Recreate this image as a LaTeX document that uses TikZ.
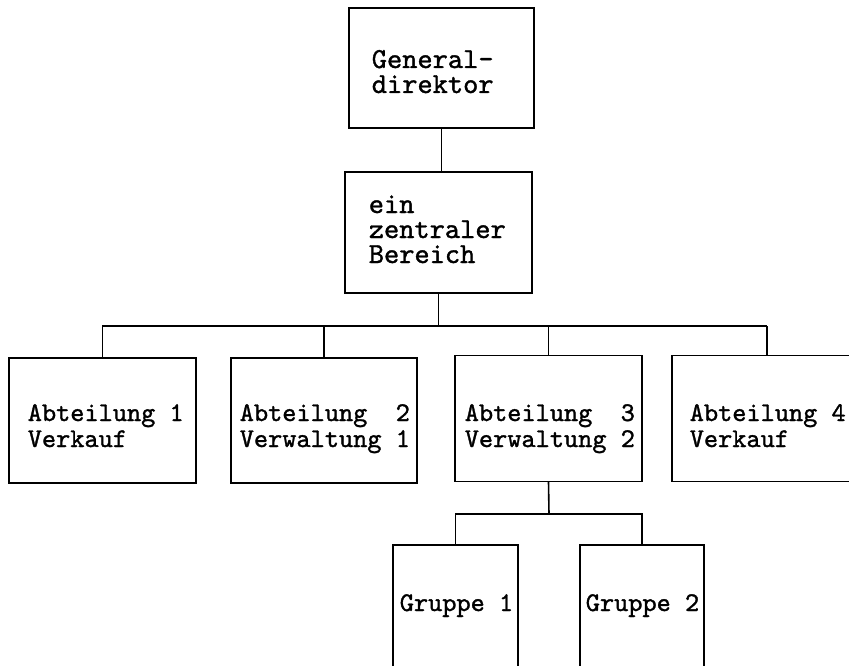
\documentclass[tikz,border=0pt]{standalone}
\usepackage{fontspec}
\newfontfamily\tw{lmmono10-regular}[Extension=.otf, FakeBold=1.2]
\begin{document}
\begin{tikzpicture}[x=1pt,y=-1pt, line width=1.6pt,
  box/.style={draw, rectangle, inner sep=0pt, outer sep=0pt},
  big/.style={font=\tw\fontsize{29}{25}\selectfont, anchor=base west, inner sep=0pt, align=left},
  small/.style={font=\tw\fontsize{27}{26}\selectfont, anchor=base west, inner sep=0pt, align=left}]
\useasboundingbox (0,0) rectangle (849,666);
\clip (0,0) rectangle (849,666);
% boxes
\node[box, minimum width=185pt, minimum height=120pt] (gd) at (441.5,68) {};
\node[box, minimum width=187pt, minimum height=121pt] (zb) at (438.5,232.5) {};
\node[box, minimum width=187pt, minimum height=125pt] (a1) at (102.5,420.5) {};
\node[box, minimum width=186pt, minimum height=125pt] (a2) at (324,420.5) {};
\node[box, minimum width=187pt, minimum height=126pt] (a3) at (548.5,418.5) {};
\node[box, minimum width=190pt, minimum height=126pt] (a4) at (767,418.5) {};
\node[box, minimum width=125pt, minimum height=155pt] (g1) at (455.5,622.5) {};
\node[box, minimum width=124pt, minimum height=155pt] (g2) at (642,622.5) {};
% texts (base anchor = baseline of last line)
\node[big] (t1) at (371,93) {General-\\direktor};
\node[big] (t3) at (368,263) {ein\\zentraler\\Bereich};
\node[small] (t6) at (27,447) {Abteilung 1\\Verkauf};
\node[small] (t8) at (239,447) {Abteilung\ \ 2\\Verwaltung 1};
\node[small] (t10) at (464,447) {Abteilung\ \ 3\\Verwaltung 2};
\node[small] (t12) at (689,447) {Abteilung 4\\Verkauf};
\node[small] (t14) at (399,611) {Gruppe 1};
\node[small] (t15) at (585,611) {Gruppe 2};
% connectors
\coordinate (busL) at (103,326);
\coordinate (busR) at (767,326);
\coordinate (sub) at (549,514);
\draw (gd.south) -- (gd.south |- zb.north);
\draw (zb.south) -- (zb.south |- busL);
\draw (a1.north) |- (busR);
\draw (a2.north) -- (a2.north |- busL);
\draw (a3.north) -- (a3.north |- busL);
\draw (a4.north) -- (busR);
\draw (a3.south) -- (sub);
\draw (g1.north) |- (sub) -| (g2.north);
\end{tikzpicture}
\end{document}
